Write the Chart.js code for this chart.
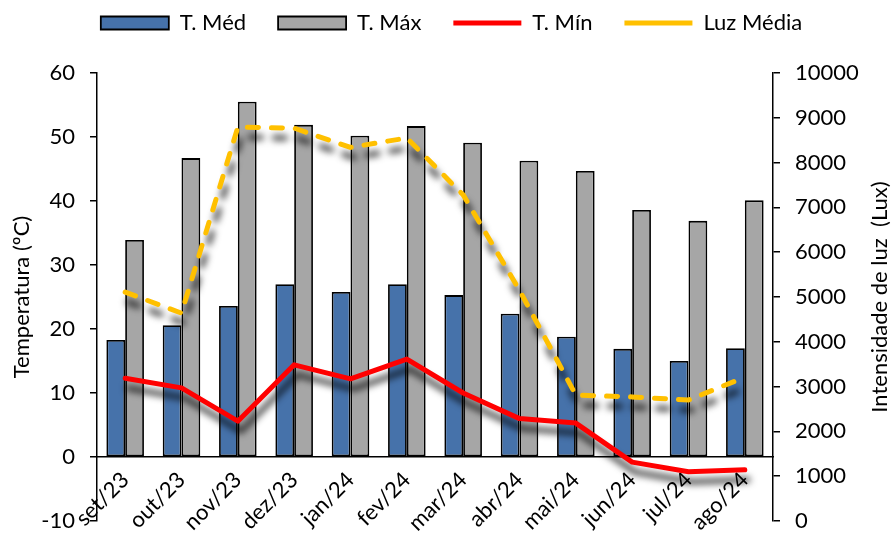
<!DOCTYPE html>
<html lang="pt">
<head>
<meta charset="utf-8">
<script src="https://cdn.jsdelivr.net/npm/chart.js@4.4.0/dist/chart.umd.min.js"></script>
<style>
  html, body { margin: 0; padding: 0; background: #fff; }
</style>
</head>
<body>
<canvas id="chart" width="893" height="536"></canvas>
<script>
const categories = ['set/23', 'out/23', 'nov/23', 'dez/23', 'jan/24', 'fev/24', 'mar/24', 'abr/24', 'mai/24', 'jun/24', 'jul/24', 'ago/24'];
const tMed = [18.3, 20.6, 23.6, 27.0, 25.8, 27.0, 25.3, 22.4, 18.8, 16.9, 15.0, 17.0];
const tMax = [33.9, 46.7, 55.5, 51.9, 50.2, 51.7, 49.1, 46.3, 44.7, 38.6, 36.9, 40.1];
const tMin = [12.3, 10.8, 5.6, 14.4, 12.2, 15.3, 10.0, 6.0, 5.3, -0.8, -2.3, -2.0];
const luzMedia = [5110, 4640, 8790, 8770, 8340, 8550, 7280, 5150, 2810, 2770, 2700, 3210];

const tempTicks = { min: -10, max: 60, step: 10 };
const luxTicks = { min: 0, max: 10000, step: 1000 };

const FONT = 'Lato';
const font = { family: FONT, size: 22 };
Chart.defaults.font.family = FONT;
Chart.defaults.color = '#000';

// grey blurred shadow under the two lines
const lineShadow = {
  id: 'lineShadow',
  beforeDatasetDraw(chart, args) {
    if (args.meta.type !== 'line') return;
    const ctx = chart.ctx;
    ctx.save();
    ctx.shadowColor = 'rgba(0,0,0,0.8)';
    ctx.shadowBlur = 7;
    ctx.shadowOffsetX = 3;
    ctx.shadowOffsetY = 10;
  },
  afterDatasetDraw(chart, args) {
    if (args.meta.type !== 'line') return;
    chart.ctx.restore();
  }
};

// nudge the legend up into the top strip
const legendNudge = {
  id: 'legendNudge',
  afterLayout(chart) {
    const lg = chart.legend;
    if (!lg) return;
    lg.top -= 29; lg.bottom -= 29;
    lg.left += 5; lg.right += 5;
  }
};

// right axis title reads bottom-to-top, like the left one
const rightTitle = {
  id: 'rightTitle',
  afterDraw(chart) {
    const { ctx, chartArea } = chart;
    ctx.save();
    ctx.translate(chart.width - 13, (chartArea.top + chartArea.bottom) / 2);
    ctx.rotate(-Math.PI / 2);
    ctx.font = `${font.size}px ${FONT}`;
    ctx.fillStyle = '#000';
    ctx.textAlign = 'center';
    ctx.textBaseline = 'middle';
    ctx.fillText('Intensidade de luz  (Lux)', 0, 0);
    ctx.restore();
  }
};

const plain = v => String(v);

new Chart(document.getElementById('chart'), {
  type: 'bar',
  data: {
    labels: categories,
    datasets: [
      { label: 'T. Méd', data: tMed, yAxisID: 'y', order: 2, backgroundColor: '#4672AA', borderColor: '#000', borderWidth: 1.8, borderSkipped: false, pointStyle: 'rect', categoryPercentage: 0.667, barPercentage: 1 },
      { label: 'T. Máx', data: tMax, yAxisID: 'y', order: 2, backgroundColor: '#A6A6A6', borderColor: '#000', borderWidth: 1.8, borderSkipped: false, pointStyle: 'rect', categoryPercentage: 0.667, barPercentage: 1 },
      { type: 'line', label: 'T. Mín', data: tMin, yAxisID: 'y', order: 1, borderColor: '#FF0000', backgroundColor: '#FF0000', borderWidth: 5, borderJoinStyle: 'round', borderCapStyle: 'round', pointRadius: 0, pointStyle: 'line', tension: 0 },
      { type: 'line', label: 'Luz Média', data: luzMedia, yAxisID: 'y1', order: 1, borderColor: '#FFC000', backgroundColor: '#FFC000', borderWidth: 5, borderDash: [11, 13], borderCapStyle: 'round', pointRadius: 0, pointStyle: 'line', tension: 0 }
    ]
  },
  options: {
    responsive: false,
    animation: false,
    layout: { padding: { top: 0, bottom: 15, left: 0, right: 0 } },
    plugins: {
      tooltip: { enabled: false },
      legend: {
        position: 'top',
        labels: {
          font, color: '#000', usePointStyle: true, pointStyleWidth: 68, boxHeight: 13, padding: 32,
          sort: (a, b) => a.datasetIndex - b.datasetIndex
        }
      }
    },
    scales: {
      x: {
        position: { y: 0 },
        offset: true,
        grid: { display: false },
        border: { display: true, color: '#000', width: 1.5 },
        ticks: { font, color: '#000', maxRotation: 45, minRotation: 45, autoSkip: false, padding: 2 }
      },
      y: {
        position: 'left',
        min: tempTicks.min, max: tempTicks.max,
        ticks: { stepSize: tempTicks.step, font, color: '#000', padding: 15, callback: plain },
        grid: { drawOnChartArea: false, color: '#000', tickLength: 7, lineWidth: 1.5 },
        border: { color: '#000', width: 1.5 },
        title: { display: true, text: 'Temperatura (ºC)', font, color: '#000', padding: { top: 9, bottom: 0 } },
        afterFit(s) { s.width = 97; s.paddingTop = 73; s.paddingBottom = 0; }
      },
      y1: {
        position: 'right',
        min: luxTicks.min, max: luxTicks.max,
        ticks: { stepSize: luxTicks.step, font, color: '#000', padding: 15, callback: plain },
        grid: { drawOnChartArea: false, color: '#000', tickLength: 7, lineWidth: 1.5 },
        border: { color: '#000', width: 1.5 },
        afterFit(s) { s.width = 120; s.paddingBottom = 0; }
      }
    }
  },
  plugins: [lineShadow, legendNudge, rightTitle]
});
</script>
</body>
</html>
